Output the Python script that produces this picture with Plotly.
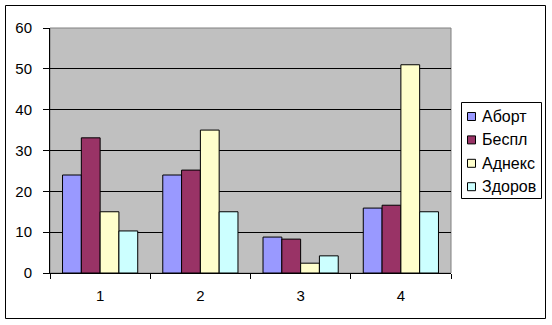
import plotly.graph_objects as go

categories = ["1", "2", "3", "4"]
series_names = ["Аборт", "Беспл", "Аднекс", "Здоров"]
abort = [24.0, 24.0, 8.8, 15.9]
bespl = [33.1, 25.2, 8.3, 16.6]
adneks = [15.0, 35.0, 2.4, 51.0]
zdorov = [10.3, 15.0, 4.2, 15.0]
series_values = [abort, bespl, adneks, zdorov]
colors = ["#9999FF", "#993366", "#FFFFCC", "#CCFFFF"]
y_ticks = [0, 10, 20, 30, 40, 50, 60]

W, H = 552, 325
ML, MR, MT, MB = 50, 101, 28, 52
FONT = "Liberation Sans, Arial, sans-serif"

fig = go.Figure()
for name, vals, col in zip(series_names, series_values, colors):
    fig.add_trace(go.Bar(
        x=categories, y=vals, name=name, showlegend=False,
        marker=dict(color=col, line=dict(color="black", width=1)),
    ))

pw = W - ML - MR
ph = H - MT - MB
def px2paper_x(px):
    return (px - ML) / pw
def px2paper_y(py):
    return (H - MB - py) / ph

# outer chart border
fig.add_shape(type="rect", xref="paper", yref="paper",
              x0=px2paper_x(5.5), x1=px2paper_x(545.5),
              y0=px2paper_y(318.5), y1=px2paper_y(5.5),
              line=dict(color="black", width=1), layer="below")
# plot-area grey border
fig.add_shape(type="rect", xref="paper", yref="paper",
              x0=0, x1=1, y0=0, y1=1,
              line=dict(color="#808080", width=1), layer="below")

# legend box (drawn manually to match the Excel-style compact legend)
fig.add_shape(type="rect", xref="paper", yref="paper",
              x0=px2paper_x(461.5), x1=px2paper_x(541.5),
              y0=px2paper_y(198.5), y1=px2paper_y(102.5),
              line=dict(color="black", width=1), fillcolor="white", layer="above")
row0, row_step = 116.5, 23.4
for i, (name, col) in enumerate(zip(series_names, colors)):
    cy = row0 + i * row_step
    fig.add_shape(type="rect", xref="paper", yref="paper",
                  x0=px2paper_x(467.5), x1=px2paper_x(475.5),
                  y0=px2paper_y(cy + 4), y1=px2paper_y(cy - 4),
                  line=dict(color="black", width=1), fillcolor=col, layer="above")
    fig.add_annotation(xref="paper", yref="paper",
                       x=px2paper_x(479.5), y=px2paper_y(cy),
                       xanchor="left", yanchor="middle", showarrow=False,
                       text=name, font=dict(family=FONT, size=16, color="black"))

fig.update_layout(
    width=W, height=H,
    margin=dict(l=ML, r=MR, t=MT, b=MB, autoexpand=False),
    paper_bgcolor="white", plot_bgcolor="#C0C0C0",
    barmode="group", bargap=0.25, bargroupgap=0,
    font=dict(family=FONT, size=15, color="black"),
    showlegend=False,
    xaxis=dict(
        type="category", tickson="boundaries", ticks="outside", ticklen=5,
        tickcolor="black", showline=True, linecolor="black", linewidth=1,
        showgrid=False, tickfont=dict(size=15), ticklabelstandoff=9,
    ),
    yaxis=dict(
        range=[0, 60], tickvals=y_ticks, ticks="outside", ticklen=6,
        tickcolor="black", showline=True, linecolor="black", linewidth=1,
        showgrid=True, gridcolor="black", gridwidth=1, zeroline=False,
        tickfont=dict(size=15), ticklabelstandoff=8,
    ),
)

fig.write_html("out.html")
